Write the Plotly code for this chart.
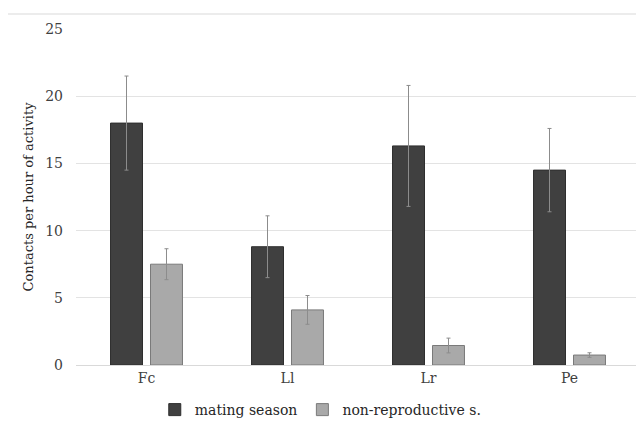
import plotly.graph_objects as go

categories = ["Fc", "Ll", "Lr", "Pe"]
mating = [18.0, 8.8, 16.3, 14.5]
mating_err = [3.5, 2.3, 4.5, 3.1]
nonrep = [7.5, 4.1, 1.45, 0.74]
nonrep_err = [1.15, 1.07, 0.55, 0.17]
y_ticks = [0, 5, 10, 15, 20, 25]

font_family = "DejaVu Serif, serif"

fig = go.Figure()
fig.add_trace(go.Bar(
    x=categories, y=mating, name="mating season",
    marker=dict(color="#404040", line=dict(color="#2e2e2e", width=1)),
    error_y=dict(type="data", array=mating_err, color="#8c8c8c", thickness=1, width=2),
))
fig.add_trace(go.Bar(
    x=categories, y=nonrep, name="non-reproductive s.",
    marker=dict(color="#a9a9a9", line=dict(color="#7a7a7a", width=1)),
    error_y=dict(type="data", array=nonrep_err, color="#8c8c8c", thickness=1, width=2),
))

fig.update_layout(
    width=644, height=427,
    margin=dict(l=68, r=12, t=21, b=70, autoexpand=False),
    paper_bgcolor="white", plot_bgcolor="white",
    barmode="group", bargap=0.433, bargroupgap=0.2,
    font=dict(family=font_family, size=13, color="#404040"),
    showlegend=True,
    legend=dict(orientation="h", x=0.434, xanchor="center", yref="container", y=0.0585,
                yanchor="middle",
                font=dict(family=font_family, size=14, color="#262626"), itemwidth=30,
                traceorder="normal"),
    shapes=[dict(type="rect", xref="paper", yref="paper", x0=-0.1223, x1=1.2,
                 y0=-0.5, y1=1.0446, line=dict(color="#d9d9d9", width=1), layer="below")],
)
fig.update_xaxes(showgrid=False, showline=True, linecolor="#d9d9d9", linewidth=1,
                 ticks="", automargin=False,
                 tickfont=dict(family=font_family, size=14, color="#404040"))
fig.update_yaxes(range=[0, 25], tickvals=y_ticks, showgrid=True, gridcolor="#e3e3e3",
                 gridwidth=1, zeroline=False, showline=False, automargin=False,
                 tickfont=dict(family=font_family, size=14, color="#404040"), ticklabelstandoff=12,
                 title=dict(text="Contacts per hour of activity",
                            font=dict(family=font_family, size=13, color="#262626"),
                            standoff=8))

fig.write_html("out.html")
